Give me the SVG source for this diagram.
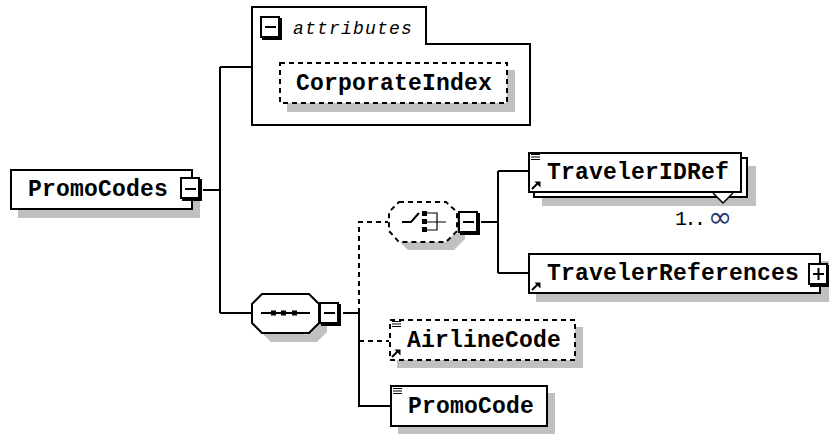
<svg xmlns="http://www.w3.org/2000/svg" width="829" height="435" viewBox="0 0 829 435">
<style>
.bg{fill:#ffffff}
.box{fill:#ffffff;stroke:#000000;stroke-width:2}
.dbox{fill:#ffffff;stroke:#000000;stroke-width:2;stroke-dasharray:5,4}
.shadow{fill:#c0c0c0;stroke:none}
.ln{fill:none;stroke:#000000;stroke-width:2}
.dln{fill:none;stroke:#000000;stroke-width:2;stroke-dasharray:5,4}
.thin{fill:none;stroke:#000000;stroke-width:1.2}
.lbl{font-family:"Liberation Mono","Courier New",monospace;font-weight:bold;font-size:23px;letter-spacing:0.2px;fill:#000000}
.it{font-family:"Liberation Mono","Courier New",monospace;font-style:italic;font-size:18px;letter-spacing:1.2px;fill:#000000}
.occ{font-family:"Liberation Mono","Courier New",monospace;font-size:20px;letter-spacing:-2.5px;fill:#000000}
.sq{fill:#000000}
</style>
<defs>
<g id="btnshape">
<rect x="2" y="2" width="20" height="22" fill="#000000"/>
<rect x="1" y="1" width="18" height="20" class="box"/>
</g>
<g id="lines3">
<path d="M0,0.5H9M0,3H9M0,5.5H9" class="thin"/>
</g>
<g id="arrow">
<path d="M0,9L6,3" class="ln"/>
<path d="M2.5,1.5L8.5,1.5L8.5,7.5Z" fill="#000000"/>
</g>
</defs>
<rect x="0" y="0" width="829" height="435" class="bg"/>

<g id="connectors">
<path d="M203,190H220M220,67V313M220,67H251M220,313H251" class="ln"/>
<path d="M343,313H359V406H390" class="ln"/>
<path d="M359,313V222H388M359,341H389" class="dln"/>
<path d="M481,222H498M498,171V273M498,171H528M498,273H528" class="ln"/>
</g>

<g id="node-PromoCodes">
<rect x="18" y="178" width="182" height="40" class="shadow"/>
<rect x="11" y="170" width="181" height="39" class="box"/>
<text x="28" y="196" class="lbl">PromoCodes</text>
<use href="#btnshape" x="180" y="177"/>
<path d="M185,189H196" class="ln"/>
</g>

<g id="node-attributes">
<path d="M252,125V7H426V44H530V125Z" class="box"/>
<use href="#btnshape" x="260" y="16"/>
<path d="M265,27H276" class="ln"/>
<text x="293" y="34" class="it">attributes</text>
</g>

<g id="node-CorporateIndex">
<rect x="287" y="70" width="228" height="42" class="shadow"/>
<rect x="280" y="63" width="227" height="40" class="dbox"/>
<text x="296" y="90" class="lbl">CorporateIndex</text>
</g>

<g id="node-sequence">
<polygon points="271,302 317,302 327,312 327,332 317,342 271,342 261,332 261,312" class="shadow"/>
<polygon points="262,294 309,294 319,304 319,323 309,333 262,333 252,323 252,304" class="box"/>
<path d="M261,313H310" class="ln"/>
<rect x="271" y="310.5" width="5" height="5" class="sq"/>
<rect x="281" y="310.5" width="5" height="5" class="sq"/>
<rect x="292" y="310.5" width="5" height="5" class="sq"/>
<use href="#btnshape" x="319" y="302"/>
<path d="M324,313H335" class="ln"/>
</g>

<g id="node-choice">
<polygon points="408,209 454,209 465,220 465,239 454,250 408,250 397,239 397,220" class="shadow"/>
<polygon points="399,202 446,202 457,212 457,231 446,242 399,242 389,231 389,212" class="dbox"/>
<path d="M402,222H411L419,213" class="ln"/>
<rect x="422" y="211" width="5" height="5" class="sq"/>
<rect x="422" y="219" width="5" height="5" class="sq"/>
<rect x="422" y="227" width="5" height="5" class="sq"/>
<path d="M427,213H437V230H427M427,222H446" class="thin" stroke-width="1.6"/>
<use href="#btnshape" x="458" y="211"/>
<path d="M463,222H474" class="ln"/>
</g>

<g id="node-TravelerIDRef">
<rect x="542" y="166" width="214" height="40" class="shadow"/>
<rect x="534" y="158" width="213" height="39" class="box"/>
<rect x="529" y="153" width="212" height="39" class="box"/>
<polyline points="713,193 723,203 733,193" fill="#ffffff" stroke="#000000" stroke-width="1.5"/>
<use href="#lines3" x="531" y="154"/>
<use href="#arrow" x="532" y="180"/>
<text x="675" y="225" class="occ">1..<tspan x="708" y="227" font-family="DejaVu Sans,sans-serif" font-size="29px" letter-spacing="0" fill="#23366e">∞</tspan></text>
<text x="547" y="179" class="lbl">TravelerIDRef</text>
</g>

<g id="node-TravelerReferences">
<rect x="536" y="261" width="293" height="41" class="shadow"/>
<rect x="529" y="254" width="291" height="39" class="box"/>
<use href="#arrow" x="532" y="281"/>
<text x="547" y="280" class="lbl">TravelerReferences</text>
<use href="#btnshape" x="808" y="263"/>
<path d="M813,274H824M818.5,268V280" class="ln"/>
</g>

<g id="node-AirlineCode">
<rect x="397" y="327" width="186" height="41" class="shadow"/>
<rect x="390" y="320" width="185" height="40" class="dbox"/>
<use href="#lines3" x="392" y="321"/>
<use href="#arrow" x="392" y="348"/>
<text x="407" y="347" class="lbl">AirlineCode</text>
</g>

<g id="node-PromoCode">
<rect x="398" y="393" width="157" height="41" class="shadow"/>
<rect x="391" y="386" width="156" height="40" class="box"/>
<use href="#lines3" x="393" y="388"/>
<text x="408" y="413" class="lbl">PromoCode</text>
</g>
</svg>
